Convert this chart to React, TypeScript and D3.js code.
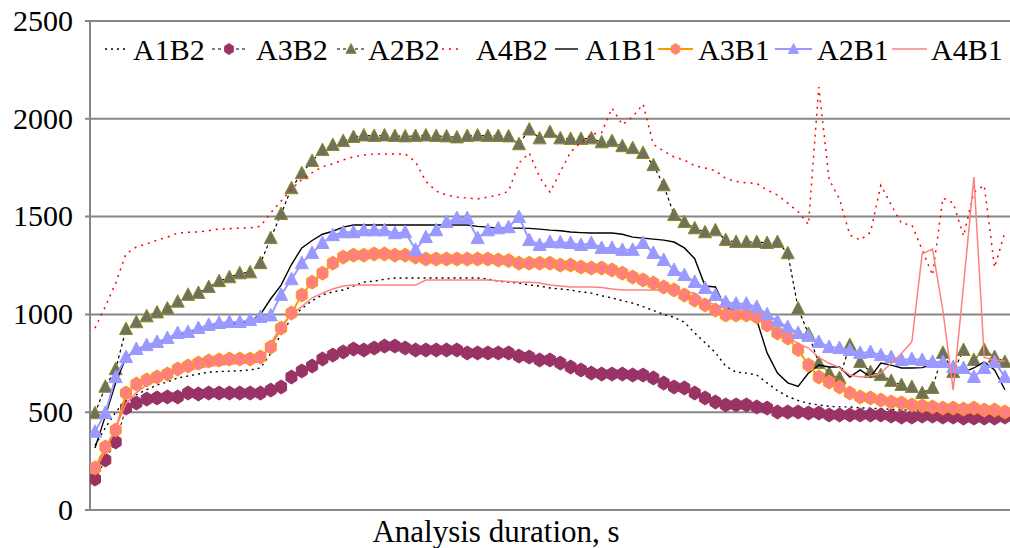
import { useRef, useEffect } from 'react';
import * as d3 from 'd3';

// y axis ticks
const yTicks = [0, 500, 1000, 1500, 2000, 2500];

// series values, one per time step
const A1B2 = [
  330, 420, 500, 560, 590, 615, 639, 655, 675, 685,
  695, 705, 708, 710, 712, 716, 726, 800, 900, 980,
  1030, 1070, 1100, 1115, 1125, 1145, 1165, 1170, 1180, 1186,
  1186, 1186, 1186, 1186, 1186, 1186, 1186, 1186, 1181, 1170,
  1165, 1160, 1150, 1145, 1135, 1130, 1125, 1115, 1109, 1095,
  1084, 1070, 1058, 1040, 1020, 1000, 985, 960, 905, 855,
  805, 735, 705, 700, 690, 650, 610, 580, 560, 545,
  537, 530, 527, 527, 522, 520, 518, 515, 512, 510,
  508, 506, 505, 503, 502, 500, 500, 498, 498,
];
const A3B2 = [
  158, 256, 348, 521, 547, 567, 573, 578, 578, 598,
  593, 598, 598, 598, 598, 598, 598, 613, 629, 680,
  711, 736, 772, 792, 808, 823, 818, 828, 838, 838,
  828, 818, 818, 818, 818, 818, 803, 803, 803, 803,
  803, 787, 782, 767, 767, 751, 731, 716, 700, 695,
  695, 695, 690, 690, 675, 649, 629, 624, 598, 573,
  552, 537, 537, 537, 527, 521, 501, 501, 501, 496,
  496, 486, 486, 486, 486, 486, 486, 480, 475, 475,
  480, 480, 475, 475, 470, 470, 470, 470, 475,
];
const A2B2 = [
  495, 630, 720, 925, 960, 990, 1010, 1030, 1065, 1100,
  1110, 1140, 1170, 1190, 1210, 1215, 1262, 1390, 1513, 1645,
  1722, 1784, 1840, 1866, 1886, 1907,
  1915, 1912, 1915, 1912, 1910, 1912, 1915, 1912, 1910, 1905,
  1912, 1915, 1912, 1912, 1910, 1870, 1945, 1900, 1932, 1900,
  1897, 1897, 1900, 1880,
  1886, 1860, 1850, 1825, 1763, 1660, 1508, 1472, 1440, 1420,
  1430, 1380, 1370, 1370, 1370, 1365, 1370, 1313, 1030, 900,
  751, 700, 675, 843, 757, 705, 690, 660, 639, 629,
  598, 624, 803, 705, 818, 767, 818, 782, 757,
];
const A4B2 = [
  930, 1040, 1160, 1310, 1345, 1360, 1380, 1395, 1416, 1420,
  1422, 1428, 1436, 1438, 1441, 1442, 1450, 1520, 1580, 1640,
  1690, 1725, 1755, 1770, 1790, 1805, 1815, 1820, 1820, 1820,
  1820, 1780, 1680, 1630, 1610, 1600, 1595, 1590, 1600, 1610,
  1630, 1774, 1825, 1702, 1625, 1730, 1830, 1881, 1920, 1930,
  2055, 1970, 2010, 2075, 1870, 1835, 1805, 1789, 1760, 1748,
  1735, 1695, 1680, 1672, 1670, 1636, 1610, 1569, 1525, 1460,
  2162, 1690, 1590, 1406, 1380, 1420, 1660, 1560, 1465, 1457,
  1330, 1200, 1595, 1570, 1400, 1625, 1660, 1240, 1420,
];
const A1B1 = [
  317, 480, 650, 780, 815, 835, 850, 870, 895, 905,
  920, 935, 945, 950, 955, 965, 1000, 1080, 1150, 1255,
  1340, 1378, 1410, 1425, 1446, 1457, 1457, 1457, 1457, 1457,
  1457, 1457, 1457, 1457, 1457, 1457, 1457, 1450, 1446, 1441,
  1441, 1441, 1440, 1436, 1431, 1428, 1421, 1418, 1416, 1416,
  1416, 1410, 1395, 1390, 1385, 1380, 1370, 1340, 1285, 1145,
  1140, 1030, 1025, 996, 971, 803, 700, 650, 632, 700,
  741, 731, 731, 680, 716, 680, 751, 741, 726, 726,
  728, 745, 741, 720, 705, 726, 757, 716, 615,
];
const A3B1 = [
  215, 322, 409, 598, 644, 665, 680, 695, 721, 736,
  751, 762, 767, 772, 772, 772, 782, 833, 930, 1007,
  1099, 1165, 1211, 1262, 1293, 1303, 1303, 1309, 1309, 1303,
  1303, 1293, 1283, 1283, 1283, 1283, 1283, 1283, 1283, 1278,
  1275, 1262, 1262, 1262, 1262, 1252, 1252, 1242, 1237, 1237,
  1227, 1211, 1191, 1176, 1160, 1140, 1125, 1099, 1073, 1048,
  1022, 997, 997, 997, 987, 946, 905, 879, 820, 741,
  680, 654, 629, 598, 578, 573, 562, 552, 547, 537,
  532, 527, 521, 521, 516, 521, 511, 511, 501,
];
const A2B1 = [
  400, 496, 680, 782, 823, 843, 859, 879, 905, 910,
  930, 946, 956, 961, 961, 971, 987, 995, 1100, 1180,
  1262, 1314, 1365, 1405, 1420, 1420, 1430, 1430, 1430, 1415,
  1420, 1330, 1395, 1430, 1472, 1492, 1492, 1390, 1430, 1440,
  1446, 1498, 1380, 1355, 1370, 1368, 1365, 1355, 1365, 1340,
  1340, 1330, 1330, 1365, 1314, 1278, 1227, 1201, 1166, 1135,
  1099, 1063, 1055, 1055, 1038, 1000, 965, 935, 905, 890,
  859, 833, 828, 818, 803, 808, 792, 782, 767, 772,
  767, 757, 757, 731, 726, 680, 726, 757, 680,
];
const A4B1 = [
  205, 300, 420, 545, 600, 640, 660, 690, 705, 716,
  725, 735, 740, 745, 750, 755, 757, 850, 940, 1000,
  1040, 1085, 1109, 1130, 1145, 1150, 1150, 1150, 1150, 1150,
  1150, 1150, 1176, 1176, 1176, 1176, 1176, 1176, 1176, 1172,
  1168, 1165, 1165, 1160, 1150, 1145, 1140, 1140, 1140, 1138,
  1130, 1125, 1125, 1125, 1125, 1125, 1118, 1112, 1109, 1065,
  1050, 1030, 1010, 987, 971, 950, 920, 885, 850, 828,
  780, 750, 728, 690, 680, 685, 700, 750, 800, 860,
  1310, 1334, 1020, 613, 1150, 1702, 780, 767, 760,
];

const FONT = 'Liberation Serif, Times New Roman, serif';

const hexPath = 'M0,-7L5.5,-3.5L5.5,3.5L0,7L-5.5,3.5L-5.5,-3.5Z';
const triPath = 'M0,-7L6.5,5.5L-6.5,5.5Z';

const series = [
  { name: 'A1B2', values: A1B2, stroke: '#000', width: 1.4, dash: '2,4', marker: null },
  { name: 'A3B2', values: A3B2, stroke: '#000', width: 1, dash: '3,3', marker: { d: hexPath, fill: '#993366', stroke: '#993366' } },
  { name: 'A2B2', values: A2B2, stroke: '#000', width: 1.2, dash: '3,3', marker: { d: triPath, fill: '#6f6f62', stroke: '#8c8c1e' } },
  { name: 'A4B2', values: A4B2, stroke: '#ff0000', width: 1.5, dash: '2,5', marker: null },
  { name: 'A1B1', values: A1B1, stroke: '#000', width: 1.4, dash: null, marker: null },
  { name: 'A3B1', values: A3B1, stroke: '#ff9900', width: 2, dash: null, marker: { d: hexPath, fill: '#ff8080', stroke: '#ff9900' } },
  { name: 'A2B1', values: A2B1, stroke: '#9999ff', width: 2, dash: null, marker: { d: triPath, fill: '#9999ff', stroke: '#9999ff' } },
  { name: 'A4B1', values: A4B1, stroke: '#ff8080', width: 1.5, dash: null, marker: null },
];

// legend layout: symbol start/end, text x
const legendLayout = [
  [105, 127, 133],
  [212, 246, 256],
  [337, 365, 368],
  [442, 463, 476],
  [555, 578, 585],
  [658, 693, 698],
  [775, 812, 817],
  [892, 927, 931],
];

export default function App() {
  const svgRef = useRef(null);

  useEffect(() => {
    if (!svgRef.current) return;
    const svg = d3.select(svgRef.current);
    svg.selectAll('*').remove();

    const width = 1010;
    const height = 548;
    const left = 90;
    const right = 1010;
    const n = A1B2.length;

    const x = d3.scaleLinear().domain([0, n - 1]).range([95, 95 + 10.34 * (n - 1)]);
    const y = d3.scaleLinear().domain([0, 2500]).range([510, 21]);

    svg.append('rect').attr('width', width).attr('height', height).attr('fill', '#fff');

    svg.append('defs').append('clipPath').attr('id', 'plot')
      .append('rect').attr('x', left).attr('y', 0).attr('width', right - left).attr('height', 515);

    // gridlines
    svg.append('g').selectAll('line').data(yTicks).enter().append('line')
      .attr('x1', left - 5).attr('x2', right)
      .attr('y1', (d) => y(d)).attr('y2', (d) => y(d))
      .attr('stroke', '#868686').attr('stroke-width', 2);

    svg.append('line')
      .attr('x1', left).attr('x2', left).attr('y1', y(2500)).attr('y2', y(0))
      .attr('stroke', '#868686').attr('stroke-width', 2);

    // tick labels
    svg.append('g').selectAll('text').data(yTicks).enter().append('text')
      .attr('x', 73).attr('y', (d) => y(d) + 3)
      .attr('text-anchor', 'end').attr('dominant-baseline', 'middle')
      .attr('font-family', FONT).attr('font-size', 30).attr('fill', '#000')
      .text((d) => d);

    svg.append('text')
      .attr('x', 496).attr('y', 542)
      .attr('text-anchor', 'middle')
      .attr('font-family', FONT).attr('font-size', 31).attr('fill', '#000')
      .text('Analysis duration, s');

    const plot = svg.append('g').attr('clip-path', 'url(#plot)');
    const line = d3.line<number>().x((_, i) => x(i)).y((d) => y(d));

    series.forEach((s) => {
      const g = plot.append('g');
      g.append('path')
        .attr('d', line(s.values))
        .attr('fill', 'none')
        .attr('stroke', s.stroke)
        .attr('stroke-width', s.width)
        .attr('stroke-dasharray', s.dash || null);
      if (s.marker) {
        g.selectAll('path.m').data(s.values).enter().append('path')
          .attr('class', 'm')
          .attr('d', s.marker.d)
          .attr('transform', (d, i) => `translate(${x(i)},${y(d)})`)
          .attr('fill', s.marker.fill)
          .attr('stroke', s.marker.stroke)
          .attr('stroke-width', 1);
      }
    });

    // legend
    const lg = svg.append('g');
    series.forEach((s, k) => {
      const [x0, x1, tx] = legendLayout[k];
      const ly = 49;
      lg.append('line')
        .attr('x1', x0).attr('x2', x1).attr('y1', ly).attr('y2', ly)
        .attr('stroke', s.stroke).attr('stroke-width', s.width)
        .attr('stroke-dasharray', s.dash || null);
      if (s.marker) {
        lg.append('path')
          .attr('d', s.marker.d)
          .attr('transform', `translate(${(x0 + x1) / 2},${ly}) scale(0.8)`)
          .attr('fill', s.marker.fill)
          .attr('stroke', s.marker.stroke);
      }
      lg.append('text')
        .attr('x', tx).attr('y', 60)
        .attr('font-family', FONT).attr('font-size', 30).attr('fill', '#000')
        .text(s.name);
    });
  }, []);

  return (
    <div style={{ position: 'absolute', left: 0, top: 0 }}>
      <svg ref={svgRef} width="1010" height="548" viewBox="0 0 1010 548" style={{ display: 'block' }} />
    </div>
  );
}
